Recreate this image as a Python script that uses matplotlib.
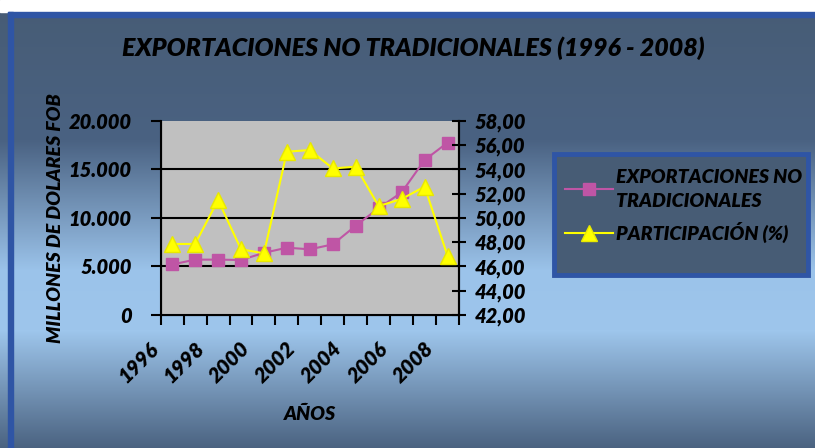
import matplotlib.pyplot as plt
import numpy as np
from matplotlib.patches import Rectangle
from matplotlib.ticker import FuncFormatter, MultipleLocator
from matplotlib.transforms import ScaledTranslation

years = [1996, 1997, 1998, 1999, 2000, 2001, 2002, 2003, 2004, 2005, 2006, 2007, 2008]
exportaciones = [5200, 5700, 5700, 5660, 6400, 6930, 6760, 7270, 9190, 11000, 12620, 15950, 17740]
participacion = [47.85, 47.85, 51.47, 47.41, 47.08, 55.45, 55.58, 54.07, 54.21, 50.97, 51.55, 52.57, 46.88]

plt.rcParams['font.family'] = ['Lato', 'DejaVu Sans']
plt.rcParams['font.weight'] = 'heavy'
plt.rcParams['font.style'] = 'italic'
plt.rcParams['axes.labelweight'] = 'heavy'

W, H = 815, 448
fig = plt.figure(figsize=(W / 100, H / 100), dpi=100)

# fondo con degradado
bg = fig.add_axes([0, 0, 1, 1])
bg.set_xlim(0, W)
bg.set_ylim(H, 0)
bg.axis('off')
stops = [0, 140, 270, 330, 448]
cols = np.array([[0x47, 0x5c, 0x75], [0x4a, 0x62, 0x82], [0x9b, 0xc3, 0xea],
                 [0x9e, 0xc6, 0xec], [0x4a, 0x62, 0x80]]) / 255
rows = np.arange(H)
grad = np.stack([np.interp(rows, stops, cols[:, c]) for c in range(3)], axis=1)
bg.imshow(grad[:, None, :], extent=[0, W, H, 0], aspect='auto')
bg.add_patch(Rectangle((0, 0), W, 12, color='white'))
bg.add_patch(Rectangle((8, 12), W, 5, color='#2f55a5'))
bg.add_patch(Rectangle((8, 12), 5, H, color='#2f55a5'))
# caja de la leyenda
bg.add_patch(Rectangle((554, 154), 254, 121, facecolor='#475c75', edgecolor='#2f55a5', lw=3.5))

fig.text(413 / W, 1 - 48 / H, 'EXPORTACIONES NO TRADICIONALES (1996 - 2008)',
         ha='center', va='center', fontsize=18, fontweight='heavy')

ax = fig.add_axes([160.7 / W, 133 / H, 298.3 / W, 194.3 / H])
ax.set_facecolor('#c0c0c0')
x = np.arange(len(years))
l1, = ax.plot(x, exportaciones, color='#bf55a5', marker='s', markersize=8, lw=1.5,
              label='EXPORTACIONES NO\nTRADICIONALES')
ax.set_ylim(0, 20000)
ax.set_xlim(-0.5, len(years) - 0.5)
ax.yaxis.set_major_locator(MultipleLocator(5000))
ax.yaxis.set_major_formatter(FuncFormatter(lambda v, p: f'{int(v):,}'.replace(',', '.')))
for yv in [5000, 10000, 15000]:
    ax.axhline(yv, color='black', lw=1.5, zorder=1)
ax.spines['top'].set_visible(False)
for s in ['left', 'right', 'bottom']:
    ax.spines[s].set_linewidth(1.5)
ax.tick_params(axis='y', direction='out', length=7, width=1.5, pad=14, labelsize=14.5)
ax.set_xticks(x[::2])
ax.set_xticklabels([str(y) for y in years[::2]], rotation=45, ha='right',
                   rotation_mode='anchor', va='center')
ax.set_xticks(np.arange(-0.5, len(years)), minor=True)
ax.tick_params(axis='x', which='major', length=0, pad=22, labelsize=15)
ax.tick_params(axis='x', which='minor', direction='out', length=7, width=1.5)
for lab in ax.get_xticklabels():
    lab.set_transform(lab.get_transform() + ScaledTranslation(-0.17, 0, fig.dpi_scale_trans))
ax.set_xlabel('AÑOS', fontsize=14, labelpad=14)
ax.set_ylabel('MILLONES DE DOLARES FOB', fontsize=14, labelpad=3)

ax2 = ax.twinx()
l2, = ax2.plot(x, participacion, color='#ffff00', marker='^', markersize=11, lw=1.5,
               markeredgecolor='#e8e800', label='PARTICIPACIÓN (%)')
ax2.set_ylim(42, 58)
ax2.yaxis.set_major_locator(MultipleLocator(2))
ax2.yaxis.set_major_formatter(FuncFormatter(lambda v, p: f'{v:.2f}'.replace('.', ',')))
ax2.tick_params(axis='y', direction='inout', length=10, width=1.5, pad=6, labelsize=14.5)
ax2.spines['top'].set_visible(False)
ax2.spines['right'].set_linewidth(1.5)

leg = fig.legend(handles=[l1, l2], loc='upper left', bbox_to_anchor=(547 / W, 1 - 151 / H),
                 frameon=False, fontsize=14, handlelength=2.5, handletextpad=0.15,
                 labelspacing=0.65)
for t in leg.get_texts():
    t.set_linespacing(1.5)

fig.savefig('out.png', dpi=100)
